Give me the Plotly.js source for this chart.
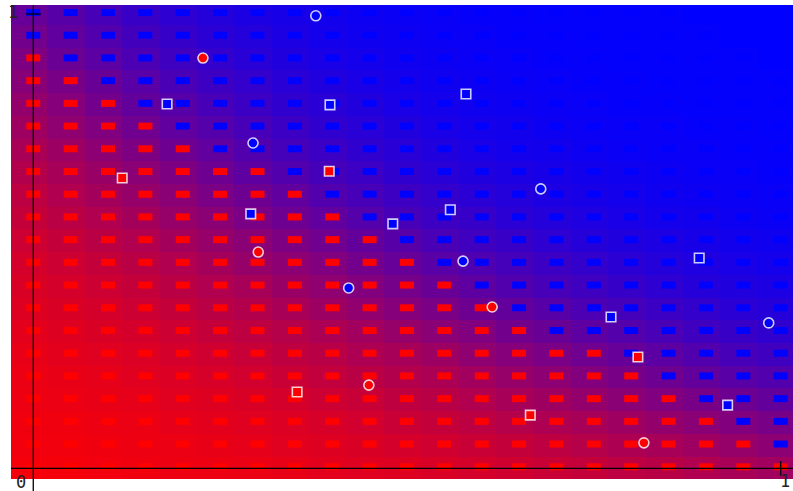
<!DOCTYPE html>
<html><head><meta charset="utf-8">
<script src="https://cdn.plot.ly/plotly-3.0.1.min.js"></script>
<style>html,body{margin:0;padding:0;background:#fff;}#chart{width:793px;height:491px;}</style>
</head><body><div id="chart"></div>
<script>
// grid of the dash markers (0..1 step 0.05)
const gridX = [0,0.05,0.1,0.15,0.2,0.25,0.3,0.35,0.4,0.45,0.5,0.55,0.6,0.65,0.7,0.75,0.8,0.85,0.9,0.95,1];
const gridY = [0,0.05,0.1,0.15,0.2,0.25,0.3,0.35,0.4,0.45,0.5,0.55,0.6,0.65,0.7,0.75,0.8,0.85,0.9,0.95,1];

// dash classes, top row (y = 1) first
const dashRows = [
  "BBBBBBBBBBBBBBBBBBBBB",
  "BBBBBBBBBBBBBBBBBBBBB",
  "RBBBBBBBBBBBBBBBBBBBB",
  "RRBBBBBBBBBBBBBBBBBBB",
  "RRRBBBBBBBBBBBBBBBBBB",
  "RRRRBBBBBBBBBBBBBBBBB",
  "RRRRRBBBBBBBBBBBBBBBB",
  "RRRRRRRBBBBBBBBBBBBBB",
  "RRRRRRRRBBBBBBBBBBBBB",
  "RRRRRRRRRBBBBBBBBBBBB",
  "RRRRRRRRRRBBBBBBBBBBB",
  "RRRRRRRRRRRBBBBBBBBBB",
  "RRRRRRRRRRRRBBBBBBBBB",
  "RRRRRRRRRRRRRBBBBBBBB",
  "RRRRRRRRRRRRRRBBBBBBB",
  "RRRRRRRRRRRRRRRRBBBBB",
  "RRRRRRRRRRRRRRRRRBBBB",
  "RRRRRRRRRRRRRRRRRRBBB",
  "RRRRRRRRRRRRRRRRRRRBB",
  "RRRRRRRRRRRRRRRRRRRRB",
  "RRRRRRRRRRRRRRRRRRRRR"
];

// background: share of blue (0 = red, 100 = blue), bottom row (y = 0) first
const bgRows = [
  [4,4,5,6,7,7,8,9,11,12,13,15,17,19,21,23,26,28,31,34,37],
  [5,5,6,7,8,9,10,12,13,15,17,19,21,23,26,29,32,35,38,41,45],
  [6,6,7,8,10,11,12,14,16,18,21,23,26,29,32,35,38,42,46,49,53],
  [7,8,9,10,12,13,15,17,20,22,25,28,31,35,38,42,46,50,53,57,61],
  [8,9,10,12,14,16,18,21,24,27,30,33,37,41,45,49,53,57,61,65,68],
  [9,11,12,14,17,19,22,25,28,32,35,39,44,48,52,56,60,64,68,72,75],
  [11,13,15,17,20,23,26,29,33,37,41,46,50,55,59,63,67,71,75,78,81],
  [13,15,17,20,23,27,30,34,39,43,48,52,57,61,66,70,73,77,80,83,85],
  [15,17,20,23,27,31,35,40,44,49,54,59,63,68,72,75,79,82,85,87,89],
  [17,20,23,27,31,36,41,45,50,55,60,65,69,73,77,80,83,86,88,90,92],
  [20,23,27,31,36,41,46,51,56,61,66,71,75,78,82,85,87,89,91,93,94],
  [23,27,31,36,41,46,52,57,62,67,72,76,79,83,86,88,90,92,93,95,96],
  [26,31,36,41,46,52,57,62,68,72,76,80,83,86,89,91,92,94,95,96,97],
  [30,35,40,46,51,57,63,68,73,77,81,84,87,89,91,93,94,95,96,97,98],
  [34,39,45,51,57,62,68,73,77,81,84,87,90,92,93,95,96,97,97,98,98],
  [38,44,50,56,62,67,72,77,81,84,87,90,92,93,95,96,97,97,98,98,99],
  [42,48,55,61,66,72,77,81,84,87,90,92,94,95,96,97,98,98,99,99,99],
  [47,53,59,65,71,76,80,84,87,90,92,94,95,96,97,98,98,99,99,99,99],
  [51,58,64,70,75,80,84,87,90,92,94,95,96,97,98,98,99,99,99,99,100],
  [55,62,68,74,79,83,86,89,92,94,95,96,97,98,98,99,99,99,99,100,100],
  [60,66,72,78,82,86,89,91,93,95,96,97,98,98,99,99,99,99,100,100,100]
];

// sample points
const circleX = [0.378,0.227,0.294,0.679,0.301,0.575,0.422,0.614,0.984,0.449,0.817];
const circleY = [0.996,0.903,0.716,0.615,0.476,0.456,0.397,0.355,0.320,0.183,0.056];
const circleClass = ["B","R","B","B","R","B","B","R","B","R","R"];
const squareX = [0.179,0.397,0.579,0.119,0.396,0.291,0.558,0.481,0.891,0.773,0.809,0.353,0.665,0.929];
const squareY = [0.802,0.800,0.824,0.639,0.654,0.560,0.569,0.538,0.463,0.333,0.245,0.168,0.117,0.139];
const squareClass = ["B","B","B","R","R","B","B","B","B","B","R","R","R","B"];

const tickLabels = ["0","1"];

const RED = "rgb(255,0,0)", BLUE = "rgb(0,0,255)";
const classColor = c => c === "R" ? RED : BLUE;

// split dash grid into two traces
const dash = {R:{x:[],y:[]}, B:{x:[],y:[]}};
dashRows.forEach((row, r) => {
  const y = gridY[gridY.length - 1 - r];
  row.split("").forEach((c, i) => { dash[c].x.push(gridX[i]); dash[c].y.push(y); });
});

const dashTrace = (c) => ({
  type: "scatter", mode: "markers", x: dash[c].x, y: dash[c].y, hoverinfo: "skip",
  marker: {symbol: "line-ew", size: 10, angle: 180, standoff: 1.5,
           color: classColor(c), line: {color: classColor(c), width: 7}}
});

const pointLine = {color: "rgba(255,255,255,0.8)", width: 1.6};

const data = [
  {type: "heatmap", z: bgRows, x0: -0.006, dx: 0.05, y0: 0.0008, dy: 0.05,
   zmin: 0, zmax: 100, colorscale: [[0, RED], [1, BLUE]], showscale: false, hoverinfo: "skip"},
  dashTrace("R"),
  dashTrace("B"),
  {type: "scatter", mode: "markers", x: circleX, y: circleY, hoverinfo: "skip",
   marker: {symbol: "circle", size: 10, color: circleClass.map(classColor), line: pointLine}},
  {type: "scatter", mode: "markers", x: squareX, y: squareY, hoverinfo: "skip",
   marker: {symbol: "square", size: 9.5, color: squareClass.map(classColor), line: pointLine}}
];

const axisLine = {color: "#000", width: 1.3};
const labelFont = {family: "DejaVu Sans Mono", size: 17, color: "#222"};

const layout = {
  width: 793, height: 491,
  margin: {l: 11, r: 0, t: 5, b: 12, pad: 0},
  paper_bgcolor: "#fff", plot_bgcolor: "#fff",
  showlegend: false,
  xaxis: {range: [-0.0298, 1.0165], visible: false, fixedrange: true},
  yaxis: {range: [-0.0236, 1.0198], visible: false, fixedrange: true},
  shapes: [
    {type: "line", layer: "above", xref: "paper", yref: "y", x0: 0, x1: 1, y0: 0, y1: 0, line: axisLine},
    {type: "line", layer: "above", xref: "x", yref: "paper", x0: 0, x1: 0, y0: -0.04, y1: 1, line: axisLine},
    {type: "line", layer: "above", xref: "x", yref: "y", x0: 1, x1: 1, y0: -0.016, y1: 0.016, line: axisLine},
    {type: "line", layer: "above", xref: "x", yref: "y", x0: -0.01, x1: 0.01, y0: 1, y1: 1, line: axisLine}
  ],
  annotations: [
    {xref: "x", yref: "y", x: 0, y: 0, text: tickLabels[0], showarrow: false, font: labelFont,
     xanchor: "center", yanchor: "middle", xshift: -12.3, yshift: -13.4},
    {xref: "x", yref: "y", x: 1, y: 0, text: tickLabels[1], showarrow: false, font: labelFont,
     xanchor: "center", yanchor: "middle", xshift: 4.3, yshift: -12.6},
    {xref: "x", yref: "y", x: 0, y: 1, text: tickLabels[1], showarrow: false, font: labelFont,
     xanchor: "center", yanchor: "middle", xshift: -20.3, yshift: 1.5}
  ]
};

Plotly.newPlot("chart", data, layout, {displayModeBar: false, staticPlot: true});
</script>
</body></html>
